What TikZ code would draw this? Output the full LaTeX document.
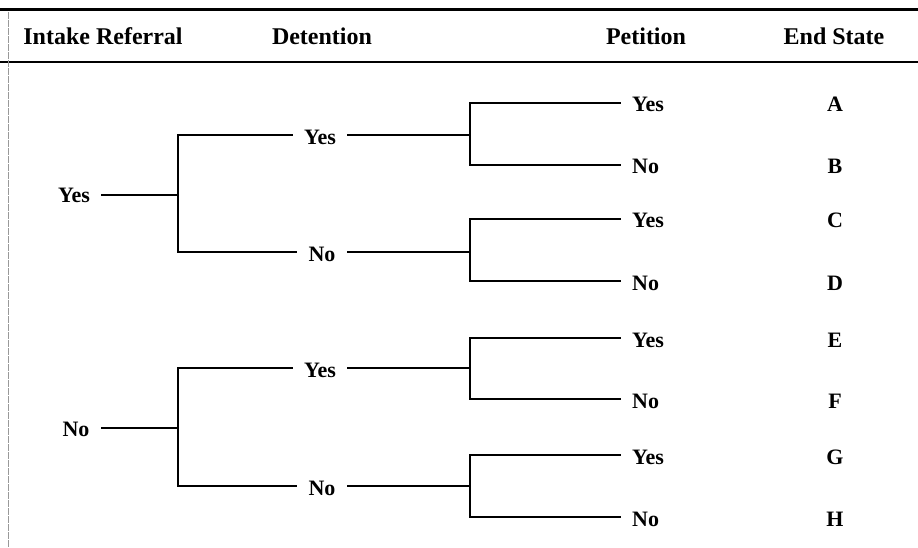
\documentclass[tikz,border=0pt]{standalone}
\usepackage{fontspec}
\setmainfont{Liberation Serif}
\begin{document}
\begin{tikzpicture}[x=1pt,y=-1pt,
  lbl/.style={font=\fontsize{22}{26}\selectfont\bfseries, inner xsep=12pt, inner ysep=0pt},
  hdr/.style={font=\fontsize{24}{28}\selectfont\bfseries, inner sep=0pt, anchor=base},
  br/.style={line width=1.2pt, line cap=rect}]
\useasboundingbox (0,0) rectangle (918,548);
% rules
\draw[line width=3pt] (0,10) -- (918,10);
\draw[line width=1.4pt] (0,62) -- (918,62);
\draw[gray!80, line width=0.8pt, dash pattern=on 7pt off 1pt] (8,12) -- (8,548);
% headers
\node[hdr] (h1) at (103,45) {Intake Referral};
\node[hdr] (h2) at (322,45) {Detention};
\node[hdr] (h3) at (646,45) {Petition};
\node[hdr] (h4) at (834,45) {End State};
% root level
\node[lbl, anchor=base] (r1) at (74,203) {Yes};
\node[lbl, anchor=base] (r2) at (76,436) {No};
\coordinate (j1) at (178,195);
\coordinate (j2) at (178,428);
\draw[br] (r1.east |- j1) -- (j1);
\draw[br] (r2.east |- j2) -- (j2);
% detention level
\coordinate (d1) at (178,135);
\coordinate (d2) at (178,252);
\coordinate (d3) at (178,368);
\coordinate (d4) at (178,486);
\draw[br] (d1) -- (d2);
\draw[br] (d3) -- (d4);
\node[lbl, anchor=base] (n1) at (320,145) {Yes};
\node[lbl, anchor=base] (n2) at (322,261) {No};
\node[lbl, anchor=base] (n3) at (320,377) {Yes};
\node[lbl, anchor=base] (n4) at (322,495) {No};
\coordinate (k1) at (470,135);
\coordinate (k2) at (470,252);
\coordinate (k3) at (470,368);
\coordinate (k4) at (470,486);
\foreach \n in {1,2,3,4}{
  \draw[br] (d\n) -- (n\n.west |- d\n);
  \draw[br] (n\n.east |- d\n) -- (k\n);
}
% petition level and end states
\foreach \y/\a/\l/\n in {103/Yes/A/1, 165/No/B/2, 219/Yes/C/3, 281/No/D/4, 338/Yes/E/5, 399/No/F/6, 455/Yes/G/7, 517/No/H/8}{
  \coordinate (q\n) at (470,\y);
  \node[lbl, anchor=base west] (p\n) at (620,\y+9) {\a};
  \node[lbl, anchor=base] (e\n) at (835,\y+9) {\l};
  \draw[br] (q\n) -- (p\n.west |- q\n);
}
\draw[br] (q1) -- (q2);
\draw[br] (q3) -- (q4);
\draw[br] (q5) -- (q6);
\draw[br] (q7) -- (q8);
\end{tikzpicture}
\end{document}
